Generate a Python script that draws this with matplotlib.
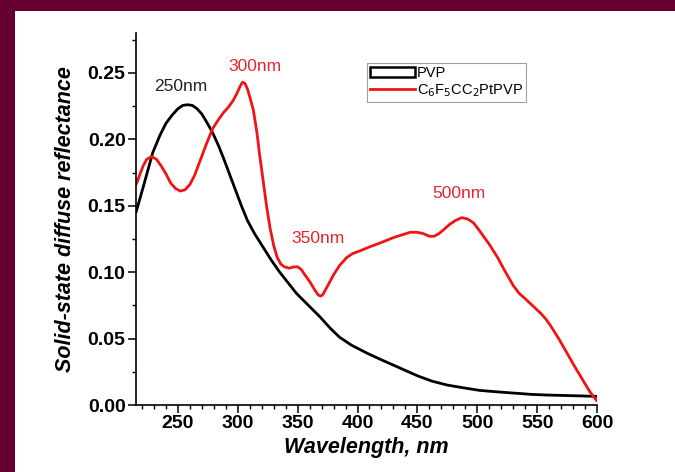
import matplotlib
matplotlib.use('Agg')
import matplotlib.pyplot as plt
import matplotlib.patches as mpatches
from matplotlib.lines import Line2D
from matplotlib.ticker import MultipleLocator, FormatStrFormatter

plt.rcParams['font.family'] = ['Liberation Sans', 'DejaVu Sans']

# PVP curve (wavelength nm, reflectance)
pvp_nm = [215, 221, 229, 235, 240, 245, 250, 254, 258, 262, 266, 270, 274, 279,
          284, 288, 293, 298, 303, 308, 314, 321, 328, 335, 342, 349, 359, 369,
          377, 385, 395, 408, 420, 430, 440, 450, 462, 475, 488, 502, 515, 530,
          545, 558, 580, 600]
pvp_r = [0.145, 0.164, 0.190, 0.203, 0.212, 0.218, 0.223, 0.2255, 0.226, 0.2255,
         0.223, 0.219, 0.213, 0.205, 0.195, 0.186, 0.174, 0.162, 0.150, 0.139,
         0.129, 0.119, 0.109, 0.100, 0.092, 0.084, 0.075, 0.066, 0.058, 0.051,
         0.045, 0.039, 0.034, 0.030, 0.026, 0.022, 0.018, 0.015, 0.013, 0.011,
         0.010, 0.009, 0.008, 0.0075, 0.007, 0.0065]

# C6F5CC2PtPVP curve
pt_nm = [215, 216, 218, 221, 224, 228, 232, 236, 240, 244, 248, 252, 256, 260,
         264, 269, 274, 279, 284, 288, 292, 296, 299, 302, 304, 306, 308, 310,
         313, 316, 318, 321, 324, 327, 330, 333, 336, 339, 343, 347, 350, 353,
         356, 360, 364, 367, 369, 371, 374, 377, 380, 385, 391, 396, 402, 410,
         419, 430, 437, 444, 450, 455, 460, 464, 468, 472, 477, 482, 487, 492,
         497, 502, 506, 510, 517, 523, 530, 535, 540, 546, 553, 557, 561, 568,
         575, 582, 588, 594, 600]
pt_r = [0.166, 0.168, 0.173, 0.180, 0.185, 0.187, 0.185, 0.180, 0.174, 0.167,
        0.163, 0.161, 0.162, 0.166, 0.173, 0.185, 0.197, 0.208, 0.215, 0.220,
        0.224, 0.229, 0.234, 0.240, 0.243, 0.242, 0.238, 0.232, 0.222, 0.205,
        0.190, 0.170, 0.150, 0.133, 0.120, 0.111, 0.106, 0.104, 0.103, 0.104,
        0.104, 0.102, 0.098, 0.093, 0.087, 0.083, 0.082, 0.083, 0.088, 0.093,
        0.098, 0.105, 0.111, 0.114, 0.116, 0.119, 0.122, 0.126, 0.128, 0.130,
        0.130, 0.129, 0.127, 0.127, 0.129, 0.132, 0.136, 0.139, 0.141, 0.140,
        0.137, 0.131, 0.126, 0.121, 0.111, 0.101, 0.090, 0.084, 0.080, 0.075,
        0.069, 0.065, 0.060, 0.050, 0.039, 0.028, 0.019, 0.010, 0.003]

# peak labels
peak_labels = ['250nm', '300nm', '350nm', '500nm']
peak_x = [252, 314, 367, 485]
peak_y = [0.240, 0.255, 0.1256, 0.159]
peak_colors = ['#222222', '#e8232a', '#e8232a', '#e8232a']

red = '#f01414'

fig = plt.figure(figsize=(6.75, 4.72), dpi=100)
fig.patch.set_facecolor('#660033')
fig.patches.append(mpatches.Rectangle((15 / 675, 0), 1, 1 - 11 / 472,
                                      transform=fig.transFigure,
                                      facecolor='white', edgecolor='none', zorder=-10))

ax = fig.add_axes([136 / 675, 1 - 405 / 472, 461 / 675, 372 / 472])
ax.set_facecolor('none')

ax.plot(pvp_nm, pvp_r, color='black', lw=2.0, solid_joinstyle='round',
        solid_capstyle='round')
ax.plot(pt_nm, pt_r, color=red, lw=2.0, solid_joinstyle='round',
        solid_capstyle='round')

for t, x, y, c in zip(peak_labels, peak_x, peak_y, peak_colors):
    ax.text(x, y, t, color=c, fontsize=12.5, ha='center', va='center')

ax.set_xlim(215, 600)
ax.set_ylim(0, 0.28)
ax.xaxis.set_major_locator(MultipleLocator(50))
ax.xaxis.set_minor_locator(MultipleLocator(10))
ax.yaxis.set_major_locator(MultipleLocator(0.05))
ax.yaxis.set_minor_locator(MultipleLocator(0.025))
ax.yaxis.set_major_formatter(FormatStrFormatter('%.2f'))

for s in ['top', 'right']:
    ax.spines[s].set_visible(False)
for s in ['left', 'bottom']:
    ax.spines[s].set_linewidth(1.2)

ax.tick_params(which='major', direction='out', length=5.5, width=1.1,
               labelsize=14, pad=2)
ax.tick_params(which='minor', direction='out', length=2.8, width=1.0)
for lab in ax.get_xticklabels() + ax.get_yticklabels():
    lab.set_fontweight('bold')

ax.set_xlabel('Wavelength, nm', fontsize=15.5, fontweight='bold', style='italic',
              labelpad=3)
ax.set_ylabel('Solid-state diffuse reflectance', fontsize=15.5, fontweight='bold',
              style='italic', labelpad=8)

handles = [mpatches.Rectangle((0, 0), 1, 1, facecolor='white', edgecolor='black', lw=1.8),
           Line2D([], [], color=red, lw=2)]
leg = ax.legend(handles, ['PVP', 'C$_6$F$_5$CC$_2$PtPVP'],
                loc='upper left', bbox_to_anchor=(0.501, 0.919),
                fontsize=10.5, frameon=True, fancybox=False,
                handlelength=3.1, handleheight=0.7, handletextpad=0.1,
                borderpad=0.2, labelspacing=0.15, borderaxespad=0)
leg.get_frame().set_edgecolor('#888888')
leg.get_frame().set_linewidth(0.8)

fig.savefig('out.png', dpi=100, facecolor=fig.get_facecolor())
